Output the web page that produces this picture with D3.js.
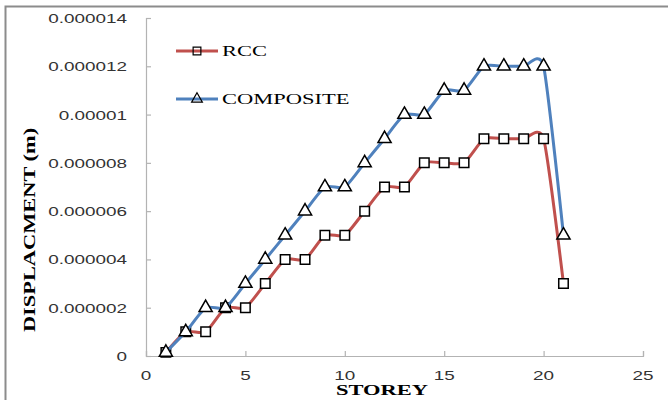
<!DOCTYPE html>
<html>
    <head>
        <meta charset="utf-8">
        <script src="https://d3js.org/d3.v7.min.js"></script>
        <style>
            body { margin: 0; background: #fff; }
        </style>
    </head>
    <body>
        <div id="my_dataviz"></div>
        <script>

            // data
            var storeys = [1, 2, 3, 4, 5, 6, 7, 8, 9, 10, 11, 12, 13, 14, 15, 16, 17, 18, 19, 20, 21];
            var rcc = [0.00000015, 0.000001, 0.000001, 0.000002, 0.000002, 0.000003, 0.000004, 0.000004, 0.000005, 0.000005,
                       0.000006, 0.000007, 0.000007, 0.000008, 0.000008, 0.000008, 0.000009, 0.000009, 0.000009, 0.000009, 0.000003];
            var composite = [0.00000015, 0.000001, 0.000002, 0.000002, 0.000003, 0.000004, 0.000005, 0.000006, 0.000007, 0.000007,
                             0.000008, 0.000009, 0.00001, 0.00001, 0.000011, 0.000011, 0.000012, 0.000012, 0.000012, 0.000012, 0.000005];
            var xTicks = [0, 5, 10, 15, 20, 25];
            var yTicks = [0, 0.000002, 0.000004, 0.000006, 0.000008, 0.00001, 0.000012, 0.000014];
            var yTickLabels = ["0", "0.000002", "0.000004", "0.000006", "0.000008", "0.00001", "0.000012", "0.000014"];

            var width = 668,
                height = 400;

            // text in the picture is stretched sideways
            var stretch = 1.4;

            var svg = d3.select("#my_dataviz")
                .append("svg")
                    .attr("width", width)
                    .attr("height", height);

            // outer chart border (runs off the right and bottom)
            svg.append("rect")
                .attr("x", 5.5)
                .attr("y", 6.5)
                .attr("width", 700)
                .attr("height", 420)
                .attr("fill", "none")
                .attr("stroke", "#8c8c8c")
                .attr("stroke-width", 2);

            var x = d3.scaleLinear().domain([0, 25]).range([146, 643]);
            var y = d3.scaleLinear().domain([0, 0.000014]).range([356, 18]);

            // axes (ticks point inwards, labels drawn separately)
            svg.append("g")
                .attr("transform", "translate(0," + y(0) + ")")
                .call(d3.axisBottom(x).tickValues(xTicks).tickSize(-5).tickFormat(""));
            svg.append("g")
                .attr("transform", "translate(" + x(0) + ",0)")
                .call(d3.axisLeft(y).tickValues(yTicks).tickSize(-5).tickFormat(""));
            svg.selectAll(".domain, .tick line")
                .attr("stroke", "#b3b3b3")
                .attr("stroke-width", 1.2);

            // tick labels
            svg.selectAll("xLabels")
                .data(xTicks)
                .join("text")
                    .attr("transform", function(d){ return "translate(" + x(d) + ",380) scale(" + stretch + ",1)" })
                    .attr("text-anchor", "middle")
                    .style("font-family", "Liberation Sans, Arial, sans-serif")
                    .style("font-size", "13.5px")
                    .attr("fill", "#333")
                    .text(function(d){ return d });

            svg.selectAll("yLabels")
                .data(yTicks)
                .join("text")
                    .attr("transform", function(d){ return "translate(127," + (y(d) + 5) + ") scale(" + stretch + ",1)" })
                    .attr("text-anchor", "end")
                    .style("font-family", "Liberation Sans, Arial, sans-serif")
                    .style("font-size", "13.5px")
                    .attr("fill", "#333")
                    .text(function(d, i){ return yTickLabels[i] });

            // axis titles
            svg.append("text")
                .attr("transform", "translate(382,395) scale(1.5,1)")
                .attr("text-anchor", "middle")
                .style("font-family", "Liberation Serif, Times New Roman, serif")
                .style("font-weight", "bold")
                .style("font-size", "15px")
                .text("STOREY");

            svg.append("text")
                .attr("transform", "translate(35,230) rotate(-90) scale(1.4,1)")
                .attr("text-anchor", "middle")
                .style("font-family", "Liberation Serif, Times New Roman, serif")
                .style("font-weight", "bold")
                .style("font-size", "16px")
                .text("DISPLACMENT (m)");

            // series
            var series = [
                {name: "RCC", values: rcc, color: "#c0504d", marker: d3.symbolSquare},
                {name: "COMPOSITE", values: composite, color: "#4f81bd", marker: d3.symbolTriangle}
            ];

            // smoothed line, close to the spreadsheet's own smoothing
            var line = d3.line()
                .x(function(d){ return x(d[0]) })
                .y(function(d){ return y(d[1]) })
                .curve(d3.curveCardinal.tension(0.4));

            series.forEach(function(s) {
                var pts = storeys.map(function(st, i){ return [st, s.values[i]] });
                svg.append("path")
                    .datum(pts)
                    .attr("d", line)
                    .attr("fill", "none")
                    .attr("stroke", s.color)
                    .attr("stroke-width", 3);
                svg.selectAll("markers")
                    .data(pts)
                    .join("path")
                        .attr("transform", function(d){ return "translate(" + x(d[0]) + "," + y(d[1]) + ")" })
                        .attr("d", d3.symbol().type(s.marker).size(s.marker === d3.symbolSquare ? 90 : 75))
                        .attr("fill", "#fff")
                        .attr("stroke", "#000")
                        .attr("stroke-width", 1.5);
            });

            // legend
            var legend = svg.selectAll("legend")
                .data(series)
                .join("g")
                    .attr("transform", function(d, i){ return "translate(176," + (51 + i * 48) + ")" });
            legend.append("line")
                .attr("x1", 0)
                .attr("x2", 42)
                .attr("stroke", function(d){ return d.color })
                .attr("stroke-width", 3);
            legend.append("path")
                .attr("transform", "translate(21,0)")
                .attr("d", function(d){ return d3.symbol().type(d.marker).size(d.marker === d3.symbolSquare ? 60 : 50)() })
                .attr("fill", "none")
                .attr("stroke", "#000")
                .attr("stroke-width", 1.2);
            legend.append("text")
                .attr("transform", "translate(46,5) scale(1.5,1)")
                .style("font-family", "Liberation Serif, Times New Roman, serif")
                .style("font-size", "15px")
                .text(function(d){ return d.name });

        </script>
    </body>
</html>
